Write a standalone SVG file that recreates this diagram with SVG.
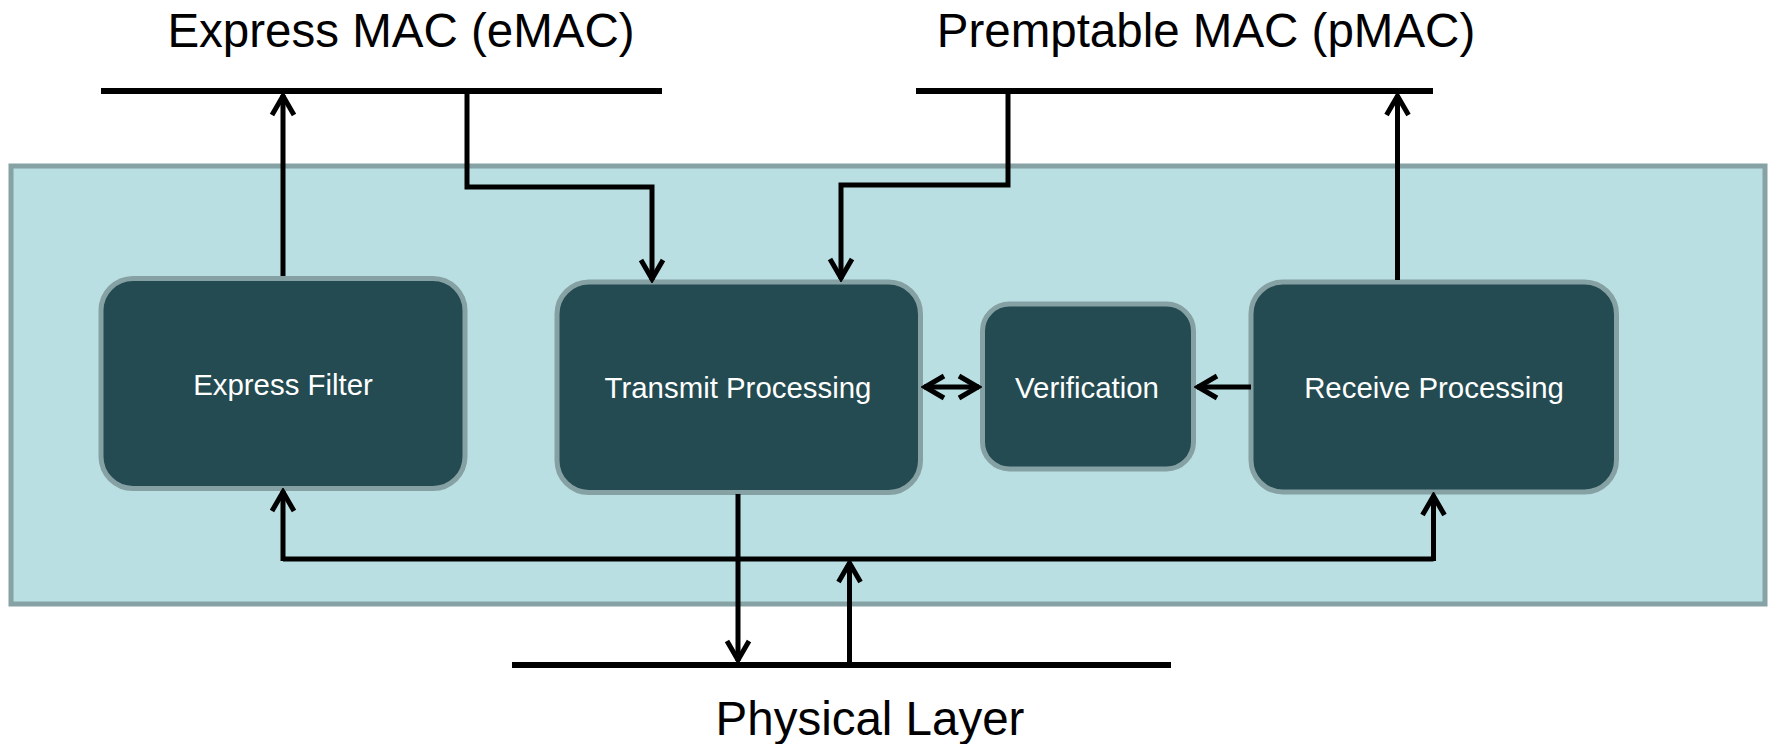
<svg xmlns="http://www.w3.org/2000/svg" width="1769" height="744" viewBox="0 0 1769 744">
  <style>
    .title { font-family: "Liberation Sans", Arial, sans-serif; font-size: 47.5px; fill: #000; text-anchor: middle; }
    .label { font-family: "Liberation Sans", Arial, sans-serif; font-size: 29.4px; fill: #ffffff; text-anchor: middle; }
    .node { fill: #234B51; stroke: #86A1A3; stroke-width: 5; }
    .bar { stroke: #000; stroke-width: 6; fill: none; }
    .conn { stroke: #000; stroke-width: 5; fill: none; }
  </style>
  <defs>
    <marker id="arrow" markerUnits="userSpaceOnUse" viewBox="-26 -16 30 32" markerWidth="30" markerHeight="32" refX="1" refY="0" orient="auto-start-reverse">
      <path d="M-19,-11 L0,0 L-19,11" fill="none" stroke="#000" stroke-width="5" stroke-linejoin="miter"/>
    </marker>
  </defs>
  <rect id="panel" x="11" y="166" width="1754" height="438" fill="#B9DFE2" stroke="#86A2A4" stroke-width="5"/>

  <g id="emac">
    <text class="title" x="401" y="47">Express MAC (eMAC)</text>
    <line class="bar" x1="101" y1="91" x2="662" y2="91"/>
  </g>
  <g id="pmac">
    <text class="title" x="1206" y="47">Premptable MAC (pMAC)</text>
    <line class="bar" x1="916" y1="91" x2="1433" y2="91"/>
  </g>
  <g id="phy">
    <line class="bar" x1="512" y1="665" x2="1171" y2="665"/>
    <text class="title" x="870" y="735">Physical Layer</text>
  </g>

  <g id="express-filter">
    <rect class="node" x="101" y="278.5" width="364" height="210" rx="32" ry="32"/>
    <text class="label" x="283" y="395">Express Filter</text>
  </g>
  <g id="transmit-processing">
    <rect class="node" x="557" y="282" width="363.5" height="210.5" rx="32" ry="32"/>
    <text class="label" x="738" y="398">Transmit Processing</text>
  </g>
  <g id="verification">
    <rect class="node" x="982.5" y="304" width="211" height="165" rx="27" ry="27"/>
    <text class="label" x="1087" y="398">Verification</text>
  </g>
  <g id="receive-processing">
    <rect class="node" x="1251" y="282" width="365.5" height="210" rx="32" ry="32"/>
    <text class="label" x="1434" y="398">Receive Processing</text>
  </g>

  <g id="connectors">
    <path class="conn" d="M283,276 V95" marker-end="url(#arrow)"/>
    <path class="conn" d="M467,91 V187 H652 V280" marker-end="url(#arrow)"/>
    <path class="conn" d="M1008,91 V185 H841 V279" marker-end="url(#arrow)"/>
    <path class="conn" d="M1397.5,280 V95" marker-end="url(#arrow)"/>
    <path class="conn" d="M924,387 H979" marker-start="url(#arrow)" marker-end="url(#arrow)"/>
    <path class="conn" d="M1251,387 H1197" marker-end="url(#arrow)"/>
    <path class="conn" d="M738,494 V661" marker-end="url(#arrow)"/>
    <path class="conn" d="M849.5,662 V562" marker-end="url(#arrow)"/>
    <path class="conn" d="M283,559 H1433.5"/>
    <path class="conn" d="M283,561 V491" marker-end="url(#arrow)"/>
    <path class="conn" d="M1433.5,561 V495" marker-end="url(#arrow)"/>
  </g>
</svg>
